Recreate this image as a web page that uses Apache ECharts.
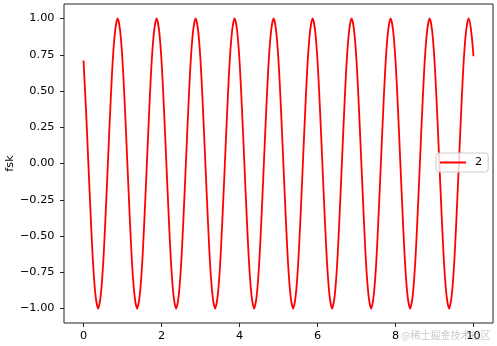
<!DOCTYPE html>
<html>
<head>
<meta charset="utf-8">
<script src="https://cdn.jsdelivr.net/npm/echarts@6/dist/echarts.min.js"></script>
<style>
html,body{margin:0;padding:0;background:#fff;}
#c{width:497px;height:346px;}
</style>
</head>
<body>
<div id="c"></div>
<script>
// time samples (s)
var tValues = [
  0, 0.0625, 0.125, 0.1875, 0.25, 0.3125, 0.375, 0.4375, 0.5, 0.5625, 0.625, 0.6875, 0.75, 0.8125, 0.875, 0.9375,
  1, 1.0625, 1.125, 1.1875, 1.25, 1.3125, 1.375, 1.4375, 1.5, 1.5625, 1.625, 1.6875, 1.75, 1.8125, 1.875, 1.9375,
  2, 2.0625, 2.125, 2.1875, 2.25, 2.3125, 2.375, 2.4375, 2.5, 2.5625, 2.625, 2.6875, 2.75, 2.8125, 2.875, 2.9375,
  3, 3.0625, 3.125, 3.1875, 3.25, 3.3125, 3.375, 3.4375, 3.5, 3.5625, 3.625, 3.6875, 3.75, 3.8125, 3.875, 3.9375,
  4, 4.0625, 4.125, 4.1875, 4.25, 4.3125, 4.375, 4.4375, 4.5, 4.5625, 4.625, 4.6875, 4.75, 4.8125, 4.875, 4.9375,
  5, 5.0625, 5.125, 5.1875, 5.25, 5.3125, 5.375, 5.4375, 5.5, 5.5625, 5.625, 5.6875, 5.75, 5.8125, 5.875, 5.9375,
  6, 6.0625, 6.125, 6.1875, 6.25, 6.3125, 6.375, 6.4375, 6.5, 6.5625, 6.625, 6.6875, 6.75, 6.8125, 6.875, 6.9375,
  7, 7.0625, 7.125, 7.1875, 7.25, 7.3125, 7.375, 7.4375, 7.5, 7.5625, 7.625, 7.6875, 7.75, 7.8125, 7.875, 7.9375,
  8, 8.0625, 8.125, 8.1875, 8.25, 8.3125, 8.375, 8.4375, 8.5, 8.5625, 8.625, 8.6875, 8.75, 8.8125, 8.875, 8.9375,
  9, 9.0625, 9.125, 9.1875, 9.25, 9.3125, 9.375, 9.4375, 9.5, 9.5625, 9.625, 9.6875, 9.75, 9.8125, 9.875, 9.9375,
  10
];
// fsk signal values
var fskValues = [
  0.71, 0.38, 0, -0.38, -0.71, -0.92, -1, -0.92, -0.71, -0.38, 0, 0.38, 0.71, 0.92, 1, 0.92,
  0.71, 0.38, 0, -0.38, -0.71, -0.92, -1, -0.92, -0.71, -0.38, 0, 0.38, 0.71, 0.92, 1, 0.92,
  0.71, 0.38, 0, -0.38, -0.71, -0.92, -1, -0.92, -0.71, -0.38, 0, 0.38, 0.71, 0.92, 1, 0.92,
  0.71, 0.38, 0, -0.38, -0.71, -0.92, -1, -0.92, -0.71, -0.38, 0, 0.38, 0.71, 0.92, 1, 0.92,
  0.71, 0.38, 0, -0.38, -0.71, -0.92, -1, -0.92, -0.71, -0.38, 0, 0.38, 0.71, 0.92, 1, 0.92,
  0.71, 0.38, 0, -0.38, -0.71, -0.92, -1, -0.92, -0.71, -0.38, 0, 0.38, 0.71, 0.92, 1, 0.92,
  0.71, 0.38, 0, -0.38, -0.71, -0.92, -1, -0.92, -0.71, -0.38, 0, 0.38, 0.71, 0.92, 1, 0.92,
  0.71, 0.38, 0, -0.38, -0.71, -0.92, -1, -0.92, -0.71, -0.38, 0, 0.38, 0.71, 0.92, 1, 0.92,
  0.71, 0.38, 0, -0.38, -0.71, -0.92, -1, -0.92, -0.71, -0.38, 0, 0.38, 0.71, 0.92, 1, 0.92,
  0.71, 0.38, 0, -0.38, -0.71, -0.92, -1, -0.92, -0.71, -0.38, 0, 0.38, 0.71, 0.92, 1, 0.92,
  0.74
];
var xTicks = [0, 2, 4, 6, 8, 10];
var yTicks = [-1, -0.75, -0.5, -0.25, 0, 0.25, 0.5, 0.75, 1];
var seriesName = '2';
var yLabel = 'fsk';
var watermark = '@稀土掘金技术社区';

var data = tValues.map(function (t, i) { return [t, fskValues[i]]; });
function fmt(v) {
  var s = Math.abs(v).toFixed(2);
  return (v < 0 ? '\u2212' : '') + s;
}
var font = 'DejaVu Sans';
var chart = echarts.init(document.getElementById('c'), null, {renderer: 'canvas'});
chart.setOption({
  animation: false,
  backgroundColor: '#fff',
  grid: {left: 64, right: 4, top: 4, bottom: 23, containLabel: false, outerBoundsMode: 'none',
    show: true, borderColor: '#222', borderWidth: 1, backgroundColor: 'transparent'},
  xAxis: {
    type: 'value', min: -0.5, max: 10.5,
    axisLine: {show: false, onZero: false},
    axisTick: {show: true, inside: false, length: 4, customValues: xTicks, lineStyle: {color: '#222', width: 1}},
    axisLabel: {customValues: xTicks, margin: 8, color: '#000', fontFamily: font, fontSize: 11.3,
      formatter: function (v) { return String(v); }},
    splitLine: {show: false}
  },
  yAxis: {
    type: 'value', min: -1.1, max: 1.1,
    name: yLabel, nameLocation: 'middle', nameGap: 48, nameRotate: 90, nameMoveOverlap: false,
    nameTextStyle: {color: '#000', fontFamily: font, fontSize: 11.3},
    axisLine: {show: false, onZero: false},
    axisTick: {show: true, inside: false, length: 4, customValues: yTicks, lineStyle: {color: '#222', width: 1}},
    axisLabel: {customValues: yTicks, margin: 9.5, color: '#000', fontFamily: font, fontSize: 11.3, formatter: fmt},
    splitLine: {show: false}
  },
  legend: {
    left: 436, top: 153, orient: 'vertical',
    backgroundColor: 'rgba(255,255,255,0.8)', borderColor: '#cccccc', borderWidth: 1, borderRadius: 3,
    padding: [4, 6, 4, 4],
    itemWidth: 26, itemHeight: 2, itemGap: 0,
    textStyle: {color: '#000', fontFamily: font, fontSize: 11.3, padding: [0, 0, 0, 4]},
    data: [{name: seriesName, icon: 'rect'}]
  },
  graphic: [{
    type: 'text', left: 401, top: 330, z: 100,
    style: {text: watermark, fill: 'rgba(160,160,160,0.55)', font: '10px "Noto Sans CJK SC"'}
  }],
  series: [{
    name: seriesName, type: 'line', data: data, showSymbol: false, symbol: 'none',
    smooth: 0.3, lineStyle: {color: '#ff0000', width: 1.8}, itemStyle: {color: '#ff0000'}
  }]
});
</script>
</body>
</html>
